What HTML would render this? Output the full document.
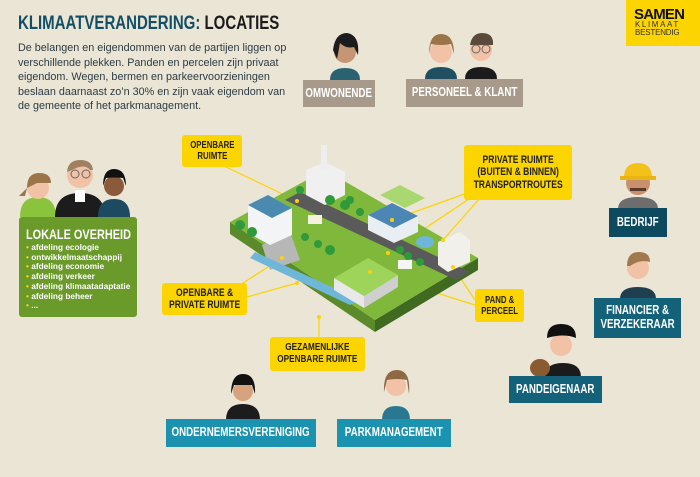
<!DOCTYPE html>
<html><head><meta charset="utf-8"><style>
*{margin:0;padding:0;box-sizing:border-box}
body{width:700px;height:477px;background:#ebe5d6;position:relative;overflow:hidden;font-family:"Liberation Sans",sans-serif}
.t{position:absolute}
.b{position:absolute;display:flex;align-items:center;justify-content:center;text-align:center;font-family:"Liberation Sans",sans-serif;font-weight:bold;line-height:1.1;white-space:nowrap}
.b span,.n{display:inline-block;transform:scaleX(.78)}
.y{background:#fcd400;color:#222;border-radius:3px;font-size:10px}
.w{color:#fff;font-size:12.5px}
</style></head><body>
<div class="t" style="left:18px;top:13px;font-weight:bold;font-size:19px;color:#124f66;white-space:nowrap;transform:scaleX(.79);transform-origin:0 0">KLIMAATVERANDERING: <span style="color:#1b1b1b">LOCATIES</span></div>
<div class="t" style="left:18px;top:41px;font-size:10.8px;line-height:14.6px;color:#2c3b42;white-space:nowrap">De belangen en eigendommen van de partijen liggen op<br>verschillende plekken. Panden en percelen zijn privaat<br>eigendom. Wegen, bermen en parkeervoorzieningen<br>beslaan daarnaast zo’n 30% en zijn vaak eigendom van<br>de gemeente of het parkmanagement.</div>

<div class="t" style="left:626px;top:0;width:74px;height:46px;background:#fcd400"></div>
<div class="t" style="left:634px;top:8px;font-weight:bold;font-size:15px;letter-spacing:-0.8px;color:#111;line-height:13px">SAMEN</div>
<div class="t" style="left:635px;top:21px;font-size:8px;color:#333;line-height:8px;letter-spacing:1.6px">KLIMAAT</div>
<div class="t" style="left:635px;top:29px;font-size:8px;color:#333;line-height:8px;letter-spacing:-0.2px">BESTENDIG</div>

<svg class="t" style="left:0;top:0" width="700" height="477">
<g stroke="#fcd400" stroke-width="1.2" fill="none">
<line x1="222" y1="165" x2="297" y2="201"/>
<line x1="470" y1="192" x2="392" y2="220"/>
<line x1="475" y1="195" x2="388" y2="253"/>
<line x1="480" y1="198" x2="443" y2="240"/>
<line x1="475" y1="300" x2="453" y2="267"/>
<line x1="475" y1="305" x2="370" y2="272"/>
<line x1="247" y1="297" x2="297" y2="283"/>
<line x1="240" y1="285" x2="282" y2="258"/>
<line x1="319" y1="317" x2="319" y2="337"/>
</g>
<polygon points="230,222 375,320 375,332 230,234" fill="#5b8a2a"/>
<polygon points="375,320 478,258 478,270 375,332" fill="#3f6a20"/>
<polygon points="230,222 325,170 478,258 375,320" fill="#7fb83a"/>
<polygon points="285,200 300,192 470,272 456,280" fill="#5a5a5a"/>
<polygon points="262,245 290,232 300,260 270,270" fill="#b7b7b7"/>
<polygon points="250,258 350,305 360,300 255,252" fill="#6fb7d8"/>
<polygon points="334,278 368,258 398,275 364,296" fill="#9fd45a"/>
<polygon points="334,278 364,296 364,308 334,290" fill="#e8e8e8"/>
<polygon points="364,296 398,275 398,287 364,308" fill="#cfcfcf"/>
<polygon points="248,205 268,195 292,208 292,235 270,245 248,233" fill="#f2f4f6"/>
<polygon points="248,205 268,195 292,208 272,218" fill="#4a8ab0"/>
<polygon points="306,170 325,162 345,172 345,195 325,205 306,195" fill="#f0f0f0"/>
<rect x="321" y="145" width="6" height="25" fill="#eee"/>
<polygon points="368,215 392,203 418,216 418,232 394,243 368,230" fill="#e9eef2"/>
<polygon points="368,215 392,203 418,216 394,228" fill="#4c86b5"/>
<polygon points="380,195 400,185 425,198 405,208" fill="#a9d870"/>
<polygon points="438,242 460,232 470,240 470,262 448,272 438,265" fill="#f2f0ea"/>
<ellipse cx="425" cy="242" rx="9" ry="6" fill="#6fb7d8"/>
<g fill="#2e9a3a">
<circle cx="240" cy="225" r="5"/><circle cx="252" cy="232" r="5"/><circle cx="300" cy="190" r="4"/><circle cx="330" cy="200" r="5"/><circle cx="345" cy="205" r="5"/><circle cx="360" cy="212" r="4"/><circle cx="305" cy="237" r="4"/><circle cx="318" cy="244" r="4"/><circle cx="330" cy="250" r="5"/><circle cx="420" cy="262" r="4"/><circle cx="408" cy="256" r="4"/><circle cx="400" cy="250" r="4"/><circle cx="350" cy="200" r="4"/>
</g>
<rect x="308" y="215" width="14" height="9" fill="#f5f1e0"/>
<rect x="398" y="260" width="14" height="9" fill="#f5f5f5"/>
<g fill="#fcd400"><circle cx="297" cy="201" r="2"/><circle cx="392" cy="220" r="2"/><circle cx="388" cy="253" r="2"/><circle cx="443" cy="240" r="2"/><circle cx="453" cy="267" r="2"/><circle cx="370" cy="272" r="2"/><circle cx="297" cy="283" r="2"/><circle cx="282" cy="258" r="2"/><circle cx="319" cy="317" r="2"/></g>

<g>
<path d="M330 80 q0-12 15-12 q15 0 15 12z" fill="#2a6272"/><circle cx="345" cy="52" r="11" fill="#c69674"/><path d="M333 50 q2-17 14-17 q13 2 11 22 l-4-8 q-8 2-14-4 l-3 16z" fill="#1c1c1c"/>
<path d="M425 79 q0-12 16-12 q16 0 16 12z" fill="#1f4f60"/><circle cx="441" cy="52" r="11" fill="#f2c2a6"/><path d="M429 54 q0-20 12-20 q13 0 13 20 l-3-10 q-10 2-20 0z" fill="#9b7448"/>
<path d="M465 79 q0-12 16-12 q16 0 16 12z" fill="#1b1b1b"/><circle cx="481" cy="50" r="11" fill="#f2c2a6"/><path d="M470 45 q2-12 12-12 q12 0 11 12z" fill="#5a4a3a"/><circle cx="476" cy="49" r="4" fill="none" stroke="#666"/><circle cx="486" cy="49" r="4" fill="none" stroke="#666"/>
<path d="M20 217 q0-20 18-20 q18 0 18 20z" fill="#8ac43c"/><circle cx="38" cy="188" r="11" fill="#f2c2a6"/><path d="M27 188 q0-15 12-15 q12 0 12 10 l-14 0 z M27 188 l-8 8 l6 0z" fill="#9b7448"/>
<path d="M55 217 q0-24 25-24 q25 0 25 24z" fill="#1c1c1c"/><rect x="75" y="190" width="10" height="12" fill="#fff"/><circle cx="80" cy="175" r="13" fill="#f2c2a6"/><path d="M67 172 q1-12 13-12 q12 0 13 10 l-3 0 q-5-7-18 0z" fill="#a08060"/><circle cx="75" cy="174" r="4" fill="none" stroke="#666"/><circle cx="86" cy="174" r="4" fill="none" stroke="#666"/>
<path d="M98 217 q0-18 16-18 q16 0 16 18z" fill="#1d4a60"/><circle cx="114" cy="186" r="10" fill="#8a5a3a"/><path d="M103 186 q0-17 11-17 q12 0 12 17 l-3-8 q-9-1-17 0z" fill="#111"/>
<path d="M618 209 q0-12 20-12 q20 0 20 12z" fill="#6d6d6d"/><circle cx="638" cy="183" r="12" fill="#c9906d"/><path d="M624 178 q0-15 14-15 q14 0 14 15z" fill="#f2c21a"/><rect x="620" y="176" width="36" height="4" fill="#e8b515"/><rect x="630" y="188" width="16" height="3" fill="#5a3a2a"/>
<path d="M620 299 q0-12 18-12 q18 0 18 12z" fill="#1f3f4f"/><circle cx="638" cy="268" r="11" fill="#f2c2a6"/><path d="M627 266 q0-14 12-14 q11 0 11 10 q-10-3-20 4z" fill="#a07a4e"/>
<path d="M545 377 q0-14 18-14 q18 0 18 14z" fill="#1b1b1b"/><circle cx="561" cy="345" r="11" fill="#f2c2a6"/><path d="M547 338 q0-14 14-14 q15 0 15 14 q-12-5-29 0z" fill="#111"/><ellipse cx="540" cy="368" rx="10" ry="9" fill="#8a5a30"/>
<path d="M226 420 q0-16 17-16 q17 0 17 16z" fill="#1c1c1c"/><circle cx="243" cy="391" r="10" fill="#d6a37e"/><path d="M231 394 q0-20 12-20 q13 0 12 20 l-3-9 q-9 0-18 0z" fill="#111"/>
<path d="M382 420 q0-14 14-14 q14 0 14 14z" fill="#2a7890"/><circle cx="396" cy="386" r="10" fill="#f2c2a6"/><path d="M384 392 q-1-22 13-22 q14 0 12 24 l-2-14 q-10-2-20 0z" fill="#8d6a44"/>
</g>
</svg>

<div class="b w" style="left:303px;top:80px;width:72px;height:27px;background:#a89a8b"><span>OMWONENDE</span></div>
<div class="b w" style="left:406px;top:79px;width:117px;height:28px;background:#a89a8b"><span>PERSONEEL &amp; KLANT</span></div>
<div class="b y" style="left:182px;top:135px;width:60px;height:32px"><span>OPENBARE<br>RUIMTE</span></div>
<div class="b y" style="left:464px;top:145px;width:108px;height:55px;font-size:11px"><span>PRIVATE RUIMTE<br>(BUITEN &amp; BINNEN)<br>TRANSPORTROUTES</span></div>
<div class="b y" style="left:162px;top:283px;width:85px;height:32px;font-size:11px"><span>OPENBARE &amp;<br>PRIVATE RUIMTE</span></div>
<div class="b y" style="left:475px;top:289px;width:49px;height:33px;font-size:10px"><span>PAND &amp;<br>PERCEEL</span></div>
<div class="b y" style="left:270px;top:337px;width:95px;height:34px;font-size:10.5px"><span>GEZAMENLIJKE<br>OPENBARE RUIMTE</span></div>
<div class="b w" style="left:609px;top:208px;width:58px;height:29px;background:#0d4a5f"><span>BEDRIJF</span></div>
<div class="b w" style="left:594px;top:298px;width:87px;height:40px;background:#13627a"><span>FINANCIER &amp;<br>VERZEKERAAR</span></div>
<div class="b w" style="left:509px;top:376px;width:93px;height:27px;background:#13627a"><span>PANDEIGENAAR</span></div>
<div class="b w" style="left:166px;top:419px;width:150px;height:28px;background:#1a92b0"><span>ONDERNEMERSVERENIGING</span></div>
<div class="b w" style="left:337px;top:419px;width:114px;height:28px;background:#1a92b0"><span>PARKMANAGEMENT</span></div>

<div class="t" style="left:19px;top:217px;width:118px;height:100px;background:#6a9a2a;border-radius:3px;padding:9px 7px 0 7px;color:#fff">
<div style="font-weight:bold;font-size:14px;margin-bottom:1px;white-space:nowrap;transform:scaleX(.78);transform-origin:0 0">LOKALE OVERHEID</div>
<div style="font-size:8.3px;line-height:9.7px;font-weight:bold;white-space:nowrap">
<div><span style="color:#fcd400">•</span> afdeling ecologie</div>
<div><span style="color:#fcd400">•</span> ontwikkelmaatschappij</div>
<div><span style="color:#fcd400">•</span> afdeling economie</div>
<div><span style="color:#fcd400">•</span> afdeling verkeer</div>
<div><span style="color:#fcd400">•</span> afdeling klimaatadaptatie</div>
<div><span style="color:#fcd400">•</span> afdeling beheer</div>
<div><span style="color:#fcd400">•</span> ...</div>
</div></div>
</body></html>
